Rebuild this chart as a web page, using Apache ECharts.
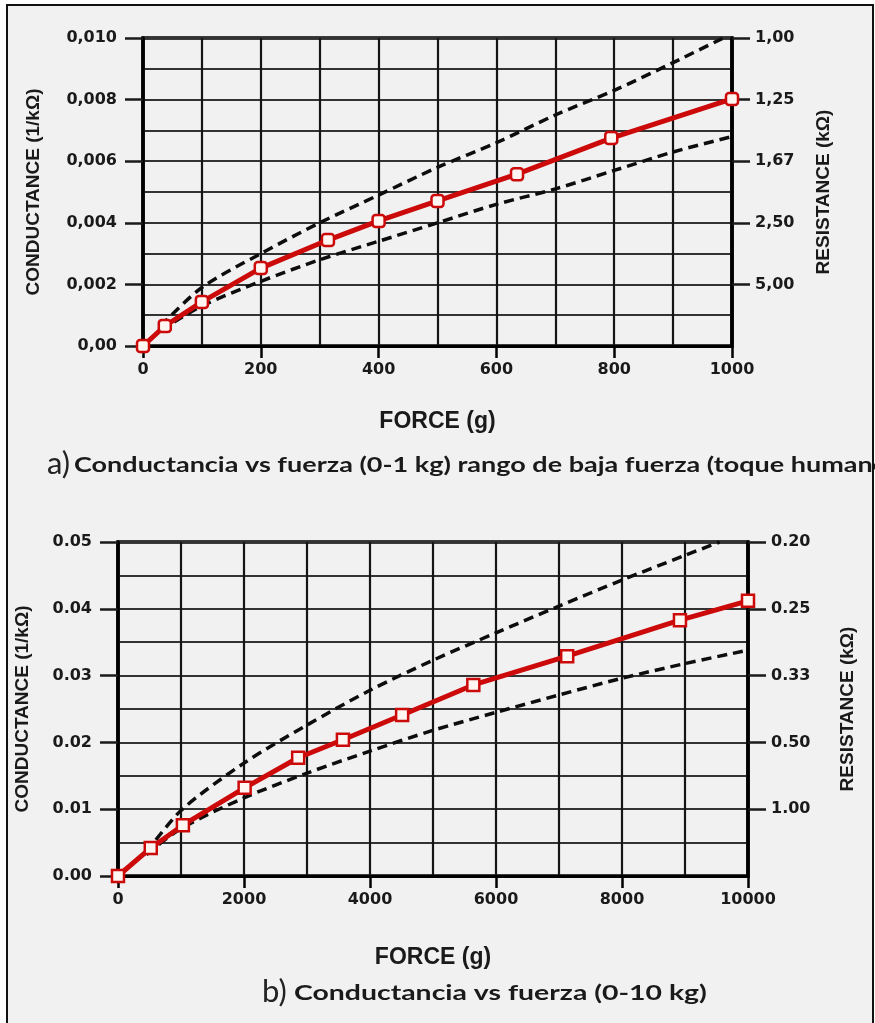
<!DOCTYPE html>
<html>
<head>
<meta charset="utf-8">
<script src="https://cdn.jsdelivr.net/npm/echarts@6/dist/echarts.min.js"></script>
<style>
html,body{margin:0;padding:0;background:#fff;}
#chart{width:875px;height:1023px;}
</style>
</head>
<body>
<div id="chart"></div>
<script>
// ---- Panel a) 0-1 kg ----
const topForce = [0, 37, 100, 200, 314, 400, 500, 635, 795, 1000];
const topCond  = [0.0000, 0.00065, 0.00143, 0.00253, 0.00344, 0.00406, 0.00471, 0.00558, 0.00675, 0.00802];
const topUpperForce = [30, 100, 200, 300, 400, 500, 600, 700, 800, 900, 985];
const topUpperCond  = [0.00065, 0.0019, 0.0030, 0.0040, 0.0049, 0.0058, 0.0066, 0.0075, 0.0083, 0.0092, 0.0100];
const topLowerForce = [30, 100, 200, 300, 400, 500, 600, 700, 800, 900, 1000];
const topLowerCond  = [0.0005, 0.0013, 0.0021, 0.0028, 0.0034, 0.0040, 0.0046, 0.0051, 0.0057, 0.0063, 0.0068];
const topLeftLabels  = ['0,00', '0,002', '0,004', '0,006', '0,008', '0,010'];
const topRightLabels = ['', '5,00', '2,50', '1,67', '1,25', '1,00'];

// ---- Panel b) 0-10 kg ----
const botForce = [0, 520, 1030, 2010, 2860, 3570, 4510, 5640, 7130, 8920, 10000];
const botCond  = [0, 0.0042, 0.0076, 0.0132, 0.0177, 0.0204, 0.0241, 0.0286, 0.0329, 0.0383, 0.0412];
const botUpperForce = [450, 1000, 2000, 3000, 4000, 5000, 6000, 7000, 8000, 9000, 9550];
const botUpperCond  = [0.0035, 0.0098, 0.0169, 0.0226, 0.0278, 0.0323, 0.0364, 0.0404, 0.0443, 0.0480, 0.0500];
const botLowerForce = [450, 1000, 2000, 3000, 4000, 5000, 6000, 7000, 8000, 9000, 10000];
const botLowerCond  = [0.0032, 0.0071, 0.0117, 0.0154, 0.0187, 0.0218, 0.0245, 0.0271, 0.0296, 0.0318, 0.0338];
const botLeftLabels  = ['0.00', '0.01', '0.02', '0.03', '0.04', '0.05'];
const botRightLabels = ['', '1.00', '0.50', '0.33', '0.25', '0.20'];

const captionA = 'Conductancia vs fuerza (0-1 kg) rango de baja fuerza (toque humano)';
const captionB = 'Conductancia vs fuerza (0-10 kg)';
const xName = 'FORCE (g)';
const yLeftName = 'CONDUCTANCE (1/kΩ)';
const yRightName = 'RESISTANCE (kΩ)';

const zip = (a, b) => a.map((v, i) => [v, b[i]]);

const tickFont = {fontFamily: 'DejaVu Sans', fontWeight: 'bold', fontSize: 16, color: '#1a1a1a'};
const nameFont = {fontFamily: 'Liberation Sans', fontWeight: 'bold', fontSize: 19, color: '#1a1a1a'};
const vGrid = {show: true, lineStyle: {color: '#151515', width: 2.2}};
const hGrid = {show: true, lineStyle: {color: '#333333', width: 2.2}};

function xAxisCfg(gi, max, interval, nameGap) {
  return {
    gridIndex: gi, type: 'value', min: 0, max: max, interval: interval,
    name: xName, nameLocation: 'middle', nameGap: nameGap,
    nameTextStyle: {fontFamily: 'Liberation Sans', fontWeight: 'bold', fontSize: 23, color: '#1a1a1a'},
    axisLine: {show: true, onZero: false, lineStyle: {color: '#000', width: 3}},
    axisTick: {show: true, inside: false, length: 12, lineStyle: {color: '#000', width: 2.5}},
    axisLabel: Object.assign({margin: 16, formatter: v => String(v)}, tickFont),
    splitLine: vGrid,
    minorTick: {show: false, splitNumber: 2},
    minorSplitLine: vGrid
  };
}
function yLeftCfg(gi, max, interval, labels, nameGap) {
  return {
    gridIndex: gi, type: 'value', min: 0, max: max, interval: interval, position: 'left',
    name: yLeftName, nameLocation: 'middle', nameGap: nameGap, nameRotate: 90,
    nameTextStyle: nameFont,
    axisLine: {show: true, lineStyle: {color: '#000', width: 3.5}},
    axisTick: {show: true, inside: false, length: 18, lineStyle: {color: '#1a1a1a', width: 2.5}},
    axisLabel: Object.assign({margin: 26, formatter: v => labels[Math.round(v / interval)]}, tickFont),
    splitLine: hGrid,
    minorTick: {show: false, splitNumber: 2},
    minorSplitLine: hGrid
  };
}
function yRightCfg(gi, max, interval, labels, nameGap) {
  const vals = [1, 2, 3, 4, 5].map(i => +(i * interval).toFixed(6));
  return {
    gridIndex: gi, type: 'value', min: 0, max: max, interval: interval, position: 'right',
    name: yRightName, nameLocation: 'middle', nameGap: nameGap, nameRotate: 90,
    nameTextStyle: nameFont,
    axisLine: {show: true, lineStyle: {color: '#000', width: 3.5}},
    axisTick: {show: true, inside: false, length: 18, customValues: vals, lineStyle: {color: '#1a1a1a', width: 2.5}},
    axisLabel: Object.assign({margin: 23, customValues: vals, formatter: v => labels[Math.round(v / interval)]}, tickFont),
    splitLine: {show: false}
  };
}

const redLine = (xi, yi, data, sym) => ({
  type: 'line', xAxisIndex: xi, yAxisIndex: yi, data: data, z: 5,
  symbol: sym, symbolSize: 12, showSymbol: true,
  lineStyle: {color: '#cc0a0a', width: 5},
  itemStyle: {color: '#fff6f2', borderColor: '#cc0a0a', borderWidth: 2.5},
  emphasis: {disabled: true}, animation: false
});
const dashLine = (xi, yi, data) => ({
  type: 'line', xAxisIndex: xi, yAxisIndex: yi, data: data, z: 4,
  symbol: 'none', smooth: 0.3,
  lineStyle: {color: '#0d0d0d', width: 3.5, type: [10, 6]},
  emphasis: {disabled: true}, animation: false
});

const chart = echarts.init(document.getElementById('chart'), null, {renderer: 'canvas'});
chart.setOption({
  backgroundColor: '#ffffff',
  animation: false,
  grid: [
    {left: 143, top: 38, width: 589, height: 308, show: true, borderColor: '#000', borderWidth: 3.5, backgroundColor: 'transparent'},
    {left: 118, top: 542, width: 630, height: 334, show: true, borderColor: '#000', borderWidth: 3.5, backgroundColor: 'transparent'}
  ],
  xAxis: [
    xAxisCfg(0, 1000, 200, 64),
    xAxisCfg(1, 10000, 2000, 70)
  ],
  yAxis: [
    yLeftCfg(0, 0.010, 0.002, topLeftLabels, 100),
    yRightCfg(0, 0.010, 0.002, topRightLabels, 82),
    yLeftCfg(1, 0.05, 0.01, botLeftLabels, 86),
    yRightCfg(1, 0.05, 0.01, botRightLabels, 90)
  ],
  series: [
    dashLine(0, 0, zip(topUpperForce, topUpperCond)),
    dashLine(0, 0, zip(topLowerForce, topLowerCond)),
    redLine(0, 0, zip(topForce, topCond), 'roundRect'),
    dashLine(1, 2, zip(botUpperForce, botUpperCond)),
    dashLine(1, 2, zip(botLowerForce, botLowerCond)),
    redLine(1, 2, zip(botForce, botCond), 'rect')
  ],
  graphic: [
    {type: 'rect', z: -10, silent: true, shape: {x: 7, y: 5, width: 866, height: 1040},
     style: {fill: '#f1f1f1', stroke: '#111', lineWidth: 2}},
    {type: 'text', z: 10, x: 47, y: 464, style: {text: 'a)', font: '31px Lato', fill: '#222', textVerticalAlign: 'middle'}},
    {type: 'text', z: 10, x: 74, y: 466, scaleX: 1.35, style: {text: captionA, font: 'bold 20px Lato', fill: '#1a1a1a', textVerticalAlign: 'middle'}},
    {type: 'text', z: 10, x: 262, y: 992, style: {text: 'b)', font: '31px Lato', fill: '#222', textVerticalAlign: 'middle'}},
    {type: 'text', z: 10, x: 294, y: 994, scaleX: 1.42, style: {text: captionB, font: 'bold 20px Lato', fill: '#1a1a1a', textVerticalAlign: 'middle'}}
  ]
});
</script>
</body>
</html>
